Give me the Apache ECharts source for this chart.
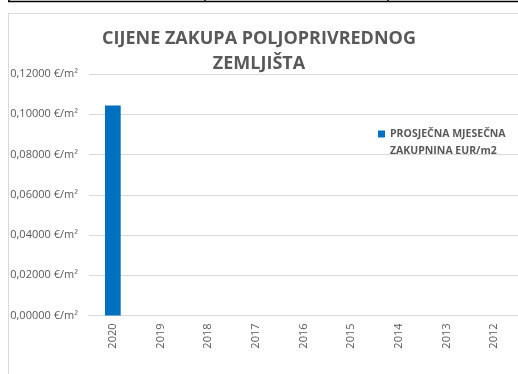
<!DOCTYPE html>
<html>
<head>
<meta charset="utf-8">
<style>
  html, body { margin: 0; padding: 0; background: #fff; }
  #chart { width: 518px; height: 374px; }
</style>
<script src="https://cdn.jsdelivr.net/npm/echarts@6/dist/echarts.min.js"></script>
</head>
<body>
<div id="chart"></div>
<script>
// Average monthly lease price of agricultural land, EUR/m2, by year
const years = ['2020', '2019', '2018', '2017', '2016', '2015', '2014', '2013', '2012'];
const leasePrice = [0.1044, null, null, null, null, null, null, null, null];
const seriesName = 'PROSJEČNA MJESEČNA\nZAKUPNINA EUR/m2';
const titleText = 'CIJENE ZAKUPA POLJOPRIVREDNOG\nZEMLJIŠTA';

const gray = '#595959';
const font = '"Open Sans", "Liberation Sans", sans-serif';

const chart = echarts.init(document.getElementById('chart'));
chart.setOption({
  animation: false,
  title: {
    text: titleText,
    left: 254,
    textAlign: 'center',
    top: 21,
    textStyle: {
      color: gray, fontSize: 18, fontWeight: 'bold', fontFamily: font, lineHeight: 25
    }
  },
  legend: {
    left: 378,
    top: 108.5,
    padding: 0,
    icon: 'rect',
    itemWidth: 7,
    itemHeight: 7,
    itemGap: 4,
    // a blank first line keeps the marker level with the first line of the name
    formatter: name => ' \n' + name,
    textStyle: {
      color: gray, fontSize: 10.5, fontWeight: 'bold', fontFamily: font, lineHeight: 17
    },
    data: [seriesName]
  },
  grid: { left: 89, top: 74, width: 436, height: 241.5, containLabel: false },
  xAxis: {
    type: 'category',
    data: years,
    axisLine: { lineStyle: { color: '#d9d9d9', width: 1 } },
    axisTick: { show: false },
    axisLabel: { rotate: 90, color: gray, fontSize: 11, fontFamily: font, margin: 8 }
  },
  yAxis: {
    type: 'value',
    min: 0,
    max: 0.12,
    interval: 0.02,
    axisLine: { show: false },
    axisTick: { show: false },
    splitLine: { lineStyle: { color: '#d9d9d9', width: 1 } },
    axisLabel: {
      color: gray, fontSize: 11, fontFamily: font, margin: 11,
      formatter: v => v.toFixed(5).replace('.', ',') + ' €/m²'
    }
  },
  series: [{
    name: seriesName,
    type: 'bar',
    data: leasePrice,
    barWidth: '33%',
    itemStyle: { color: '#0070c0' }
  }],
  graphic: [
    // chart area frame
    { type: 'line', shape: { x1: 8.5, y1: 13, x2: 8.5, y2: 374 }, style: { stroke: '#d9d9d9', lineWidth: 1 } },
    { type: 'line', shape: { x1: 8, y1: 13.5, x2: 518, y2: 13.5 }, style: { stroke: '#d9d9d9', lineWidth: 1 } },
    // table border above the chart
    { type: 'line', shape: { x1: 8, y1: 1.5, x2: 518, y2: 1.5 }, style: { stroke: '#000', lineWidth: 1.5 } },
    { type: 'line', shape: { x1: 9, y1: 0, x2: 9, y2: 2 }, style: { stroke: '#000', lineWidth: 1.5 } },
    { type: 'line', shape: { x1: 205, y1: 0, x2: 205, y2: 2 }, style: { stroke: '#000', lineWidth: 1.5 } },
    { type: 'line', shape: { x1: 388, y1: 0, x2: 388, y2: 2 }, style: { stroke: '#000', lineWidth: 1.5 } }
  ]
});
</script>
</body>
</html>
